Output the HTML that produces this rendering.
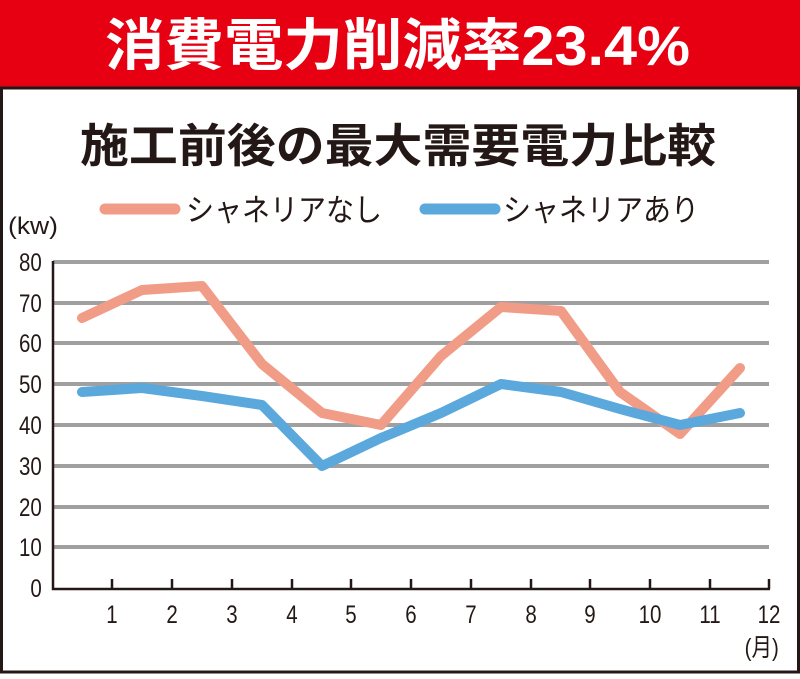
<!DOCTYPE html>
<html><head><meta charset="utf-8"><style>
body{margin:0;width:800px;height:674px;background:#fff;overflow:hidden;font-family:"Liberation Sans","Noto Sans CJK JP",sans-serif}
</style></head><body>
<svg width="800" height="674" xmlns="http://www.w3.org/2000/svg" font-family="Liberation Sans, Noto Sans CJK JP, sans-serif">
<rect x="0" y="0" width="800" height="88" fill="#e60012"/>
<text x="105" y="65" font-size="56" font-weight="bold" fill="#fff" textLength="585" lengthAdjust="spacingAndGlyphs">消費電力削減率23.4%</text>
<rect x="1.5" y="88" width="797" height="584" fill="none" stroke="#231815" stroke-width="3"/>
<text x="80" y="162" font-size="46" font-weight="bold" fill="#231815" textLength="636" lengthAdjust="spacingAndGlyphs">施工前後の最大需要電力比較</text>
<line x1="105" y1="209" x2="175" y2="209" stroke="#f19c86" stroke-width="11" stroke-linecap="round"/>
<text x="186" y="221" font-size="31" fill="#231815" textLength="196" lengthAdjust="spacingAndGlyphs">シャネリアなし</text>
<line x1="425" y1="209" x2="495" y2="209" stroke="#5aa8dc" stroke-width="11" stroke-linecap="round"/>
<text x="503" y="221" font-size="31" fill="#231815" textLength="196" lengthAdjust="spacingAndGlyphs">シャネリアあり</text>
<text x="8" y="234" font-size="24" fill="#231815" textLength="50" lengthAdjust="spacingAndGlyphs">(kw)</text>
<g stroke="#a0a0a0" stroke-width="4">
<line x1="53" y1="262" x2="769" y2="262"/><line x1="53" y1="303" x2="769" y2="303"/><line x1="53" y1="343" x2="769" y2="343"/><line x1="53" y1="384" x2="769" y2="384"/><line x1="53" y1="425" x2="769" y2="425"/><line x1="53" y1="466" x2="769" y2="466"/><line x1="53" y1="507" x2="769" y2="507"/><line x1="53" y1="547" x2="769" y2="547"/>
</g>
<g fill="#231815" font-size="25" text-anchor="end" transform="scale(0.82,1)">
<text x="51" y="271">80</text><text x="51" y="312">70</text><text x="51" y="352">60</text><text x="51" y="393">50</text><text x="51" y="434">40</text><text x="51" y="475">30</text><text x="51" y="516">20</text><text x="51" y="556">10</text><text x="51" y="597">0</text>
</g>
<path d="M53 261V589H770M112 589v-10M172 589v-10M232 589v-10M292 589v-10M351 589v-10M411 589v-10M471 589v-10M531 589v-10M590 589v-10M650 589v-10M710 589v-10M769 589v-10" fill="none" stroke="#231815" stroke-width="2.5"/>
<g fill="#231815" font-size="25" text-anchor="middle" transform="scale(0.82,1)">
<text x="136.6" y="623">1</text><text x="209.8" y="623">2</text><text x="282.9" y="623">3</text><text x="356.1" y="623">4</text><text x="428" y="623">5</text><text x="501.2" y="623">6</text><text x="574.4" y="623">7</text><text x="647.6" y="623">8</text><text x="719.5" y="623">9</text><text x="792.7" y="623">10</text><text x="865.9" y="623">11</text><text x="937.8" y="623">12</text>
<text x="929" y="656">(月)</text>
</g>
<polyline fill="none" stroke="#f19c86" stroke-width="10" stroke-linejoin="round" stroke-linecap="round" points="82,318 142,290 202,286 262,364 322,413 381,425 441,356 501,307 561,311 620,392 680,434 740,368"/>
<polyline fill="none" stroke="#5aa8dc" stroke-width="10" stroke-linejoin="round" stroke-linecap="round" points="82,392 142,388 202,396 262,405 322,466 381,438 441,413 501,384 561,392 620,409 680,425 740,413"/>
</svg>
</body></html>
